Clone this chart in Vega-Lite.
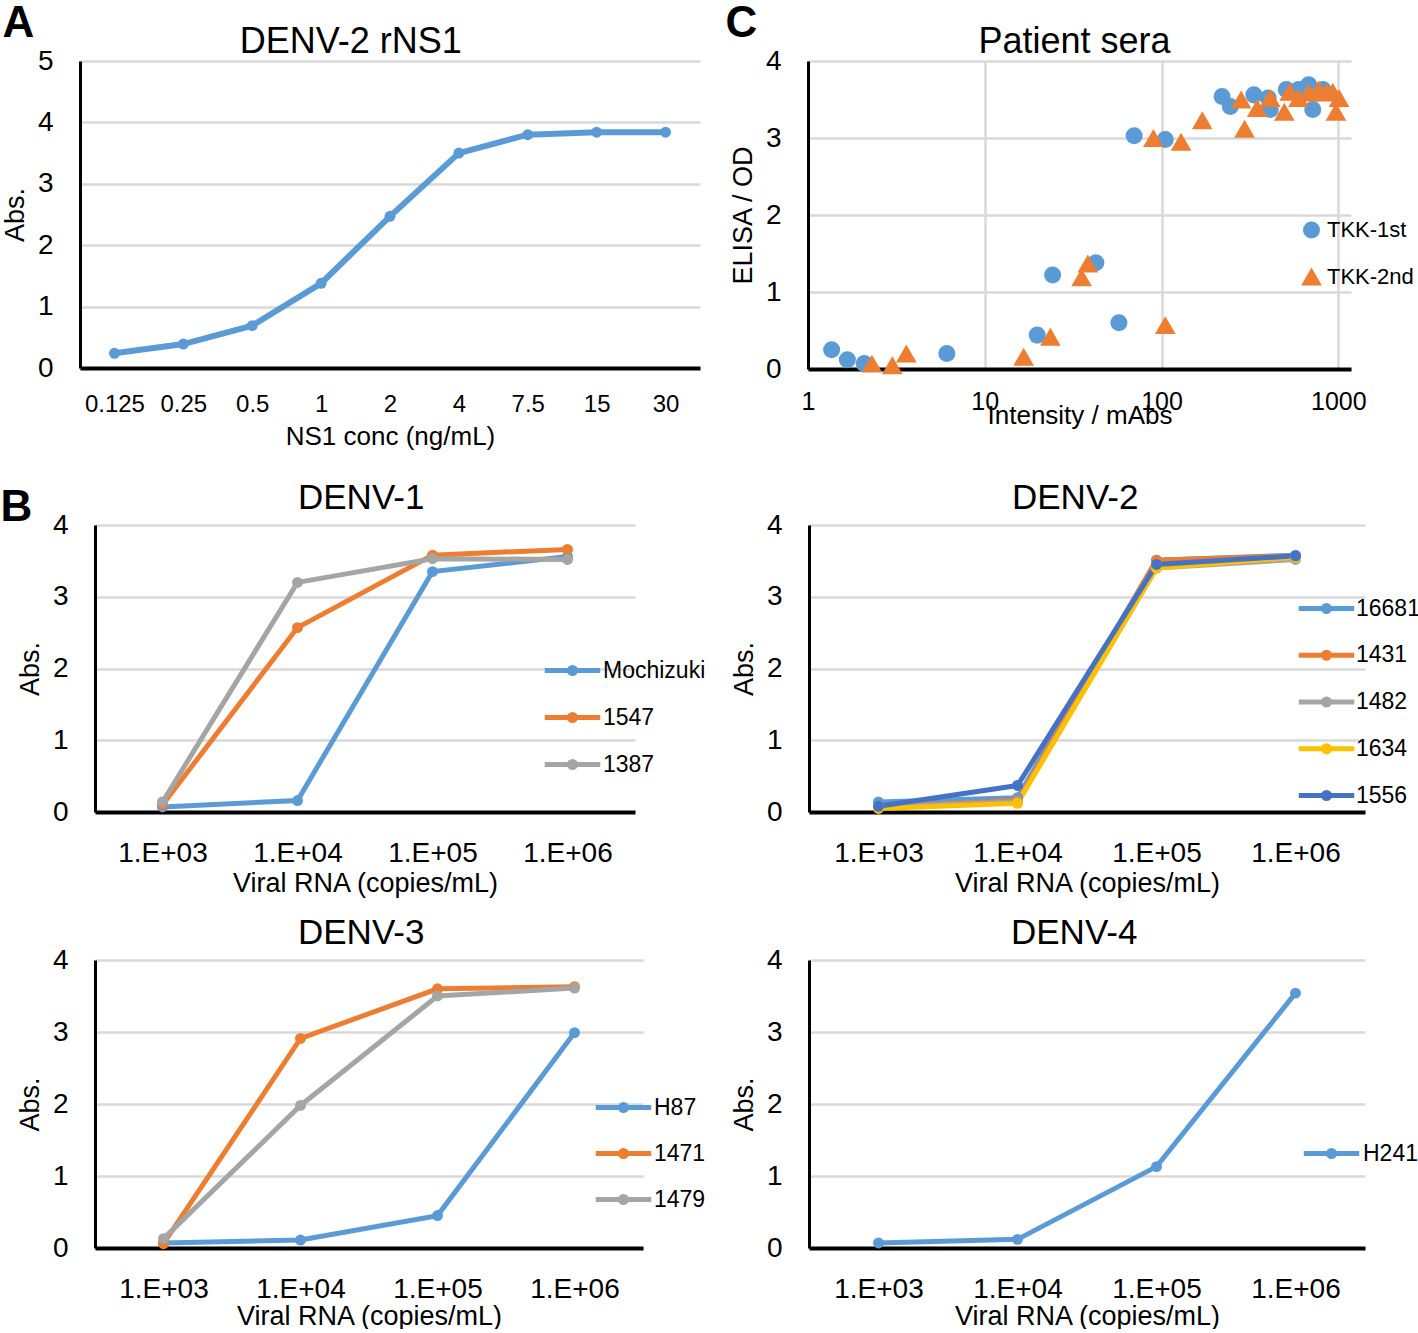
{
  "$schema": "https://vega.github.io/schema/vega-lite/v6.json",
  "padding": {"top": 2, "left": 0, "right": 0, "bottom": 0},
  "background": "white",
  "datasets": {
    "ns1": [
      {"conc": "0.125", "abs": 0.24},
      {"conc": "0.25", "abs": 0.39},
      {"conc": "0.5", "abs": 0.69},
      {"conc": "1", "abs": 1.38},
      {"conc": "2", "abs": 2.47},
      {"conc": "4", "abs": 3.5},
      {"conc": "7.5", "abs": 3.8},
      {"conc": "15", "abs": 3.84},
      {"conc": "30", "abs": 3.84}
    ],
    "sera": [
      {"group": "TKK-1st", "intensity": 1.36, "od": 0.25},
      {"group": "TKK-1st", "intensity": 1.67, "od": 0.12},
      {"group": "TKK-1st", "intensity": 2.08, "od": 0.07},
      {"group": "TKK-1st", "intensity": 6.1, "od": 0.2},
      {"group": "TKK-1st", "intensity": 19.8, "od": 0.44},
      {"group": "TKK-1st", "intensity": 24.2, "od": 1.22},
      {"group": "TKK-1st", "intensity": 42.5, "od": 1.38},
      {"group": "TKK-1st", "intensity": 57.4, "od": 0.6},
      {"group": "TKK-1st", "intensity": 70, "od": 3.03},
      {"group": "TKK-1st", "intensity": 105, "od": 2.98},
      {"group": "TKK-1st", "intensity": 220, "od": 3.54},
      {"group": "TKK-1st", "intensity": 245, "od": 3.41},
      {"group": "TKK-1st", "intensity": 333, "od": 3.56},
      {"group": "TKK-1st", "intensity": 401, "od": 3.52},
      {"group": "TKK-1st", "intensity": 412, "od": 3.37},
      {"group": "TKK-1st", "intensity": 508, "od": 3.63},
      {"group": "TKK-1st", "intensity": 596, "od": 3.63},
      {"group": "TKK-1st", "intensity": 680, "od": 3.69},
      {"group": "TKK-1st", "intensity": 717, "od": 3.37},
      {"group": "TKK-1st", "intensity": 818, "od": 3.63},
      {"group": "TKK-2nd", "intensity": 2.3, "od": 0.07},
      {"group": "TKK-2nd", "intensity": 3.0, "od": 0.05},
      {"group": "TKK-2nd", "intensity": 3.6, "od": 0.2},
      {"group": "TKK-2nd", "intensity": 16.6, "od": 0.16},
      {"group": "TKK-2nd", "intensity": 23.5, "od": 0.42},
      {"group": "TKK-2nd", "intensity": 35.3, "od": 1.19},
      {"group": "TKK-2nd", "intensity": 38.3, "od": 1.37},
      {"group": "TKK-2nd", "intensity": 90, "od": 3.0},
      {"group": "TKK-2nd", "intensity": 105, "od": 0.57},
      {"group": "TKK-2nd", "intensity": 129, "od": 2.95},
      {"group": "TKK-2nd", "intensity": 170, "od": 3.23},
      {"group": "TKK-2nd", "intensity": 282, "od": 3.5},
      {"group": "TKK-2nd", "intensity": 295, "od": 3.12},
      {"group": "TKK-2nd", "intensity": 348, "od": 3.39},
      {"group": "TKK-2nd", "intensity": 412, "od": 3.52},
      {"group": "TKK-2nd", "intensity": 495, "od": 3.34},
      {"group": "TKK-2nd", "intensity": 531, "od": 3.6},
      {"group": "TKK-2nd", "intensity": 596, "od": 3.52},
      {"group": "TKK-2nd", "intensity": 680, "od": 3.59},
      {"group": "TKK-2nd", "intensity": 776, "od": 3.63},
      {"group": "TKK-2nd", "intensity": 860, "od": 3.59},
      {"group": "TKK-2nd", "intensity": 930, "od": 3.6},
      {"group": "TKK-2nd", "intensity": 970, "od": 3.34},
      {"group": "TKK-2nd", "intensity": 1010, "od": 3.52}
    ],
    "d1": [
      {"strain": "Mochizuki", "rna": "1.E+03", "abs": 0.07},
      {"strain": "Mochizuki", "rna": "1.E+04", "abs": 0.16},
      {"strain": "Mochizuki", "rna": "1.E+05", "abs": 3.35},
      {"strain": "Mochizuki", "rna": "1.E+06", "abs": 3.56},
      {"strain": "1547", "rna": "1.E+03", "abs": 0.1},
      {"strain": "1547", "rna": "1.E+04", "abs": 2.57},
      {"strain": "1547", "rna": "1.E+05", "abs": 3.58},
      {"strain": "1547", "rna": "1.E+06", "abs": 3.66},
      {"strain": "1387", "rna": "1.E+03", "abs": 0.14},
      {"strain": "1387", "rna": "1.E+04", "abs": 3.2},
      {"strain": "1387", "rna": "1.E+05", "abs": 3.53},
      {"strain": "1387", "rna": "1.E+06", "abs": 3.52}
    ],
    "d2": [
      {"strain": "16681", "rna": "1.E+03", "abs": 0.14},
      {"strain": "16681", "rna": "1.E+04", "abs": 0.2},
      {"strain": "16681", "rna": "1.E+05", "abs": 3.51},
      {"strain": "16681", "rna": "1.E+06", "abs": 3.58},
      {"strain": "1431", "rna": "1.E+03", "abs": 0.07},
      {"strain": "1431", "rna": "1.E+04", "abs": 0.16},
      {"strain": "1431", "rna": "1.E+05", "abs": 3.51},
      {"strain": "1431", "rna": "1.E+06", "abs": 3.57},
      {"strain": "1482", "rna": "1.E+03", "abs": 0.07},
      {"strain": "1482", "rna": "1.E+04", "abs": 0.14},
      {"strain": "1482", "rna": "1.E+05", "abs": 3.4},
      {"strain": "1482", "rna": "1.E+06", "abs": 3.52},
      {"strain": "1634", "rna": "1.E+03", "abs": 0.05},
      {"strain": "1634", "rna": "1.E+04", "abs": 0.12},
      {"strain": "1634", "rna": "1.E+05", "abs": 3.4},
      {"strain": "1634", "rna": "1.E+06", "abs": 3.55},
      {"strain": "1556", "rna": "1.E+03", "abs": 0.08},
      {"strain": "1556", "rna": "1.E+04", "abs": 0.37},
      {"strain": "1556", "rna": "1.E+05", "abs": 3.45},
      {"strain": "1556", "rna": "1.E+06", "abs": 3.57}
    ],
    "d3": [
      {"strain": "H87", "rna": "1.E+03", "abs": 0.07},
      {"strain": "H87", "rna": "1.E+04", "abs": 0.11},
      {"strain": "H87", "rna": "1.E+05", "abs": 0.45},
      {"strain": "H87", "rna": "1.E+06", "abs": 2.99},
      {"strain": "1471", "rna": "1.E+03", "abs": 0.06},
      {"strain": "1471", "rna": "1.E+04", "abs": 2.91},
      {"strain": "1471", "rna": "1.E+05", "abs": 3.6},
      {"strain": "1471", "rna": "1.E+06", "abs": 3.63},
      {"strain": "1479", "rna": "1.E+03", "abs": 0.13},
      {"strain": "1479", "rna": "1.E+04", "abs": 1.98},
      {"strain": "1479", "rna": "1.E+05", "abs": 3.5},
      {"strain": "1479", "rna": "1.E+06", "abs": 3.61}
    ],
    "d4": [
      {"strain": "H241", "rna": "1.E+03", "abs": 0.07},
      {"strain": "H241", "rna": "1.E+04", "abs": 0.12},
      {"strain": "H241", "rna": "1.E+05", "abs": 1.13},
      {"strain": "H241", "rna": "1.E+06", "abs": 3.54}
    ]
  },
  "columns": 1,
  "spacing": 32,
  "resolve": {"scale": {"color": "independent", "shape": "independent", "size": "independent"}, "legend": {"color": "independent", "shape": "independent", "size": "independent"}},
  "concat": [
    {
      "spacing": 25,
      "resolve": {"scale": {"color": "independent", "shape": "independent", "size": "independent"}, "legend": {"color": "independent", "shape": "independent", "size": "independent"}},
      "hconcat": [
        {
          "title": {"text": "A", "anchor": "start", "fontSize": 44, "fontWeight": "bold", "dx": 1, "dy": 22, "offset": 0},
          "vconcat": [
            {
              "width": 620,
              "height": 307,
              "title": {"text": "DENV-2 rNS1", "offset": -14, "frame": "bounds", "fontSize": 36},
              "data": {"name": "ns1"},
              "encoding": {
                "x": {"field": "conc", "type": "ordinal", "sort": null, "scale": {"type": "point", "padding": 0.5},
                      "axis": {"title": "NS1 conc (ng/mL)", "labelAngle": 0, "labelFontSize": 24, "labelPadding": 24, "titlePadding": 7, "titleFontSize": 26}},
                "y": {"field": "abs", "type": "quantitative", "scale": {"domain": [0, 5], "nice": false},
                      "axis": {"title": "Abs.", "values": [0, 1, 2, 3, 4, 5]}}
              },
              "layer": [
                {"mark": {"type": "line", "color": "#5B9BD5", "strokeWidth": 6}},
                {"mark": {"type": "point", "filled": true, "color": "#5B9BD5", "size": 120, "opacity": 1}}
              ]
            }
          ]
        },
        {
          "title": {"text": "C", "anchor": "start", "fontSize": 44, "fontWeight": "bold", "dx": -4, "dy": 22, "offset": 0},
          "vconcat": [
            {
              "width": 543,
              "height": 308,
              "title": {"text": "Patient sera", "offset": -14, "frame": "group", "dx": -5, "fontSize": 36},
              "data": {"name": "sera"},
              "mark": {"type": "point", "filled": true, "opacity": 1},
              "encoding": {
                "x": {"field": "intensity", "type": "quantitative", "scale": {"type": "log", "domain": [1, 1180], "nice": false},
                      "axis": {"title": "Intensity / mAbs", "values": [1, 10, 100, 1000], "format": "d", "grid": true, "labelFlush": false, "labelFontSize": 25, "labelPadding": 20, "titlePadding": -12, "titleFontSize": 26}},
                "y": {"field": "od", "type": "quantitative", "scale": {"domain": [0, 4], "nice": false},
                      "axis": {"title": "ELISA / OD", "values": [0, 1, 2, 3, 4]}},
                "color": {"field": "group", "type": "nominal", "scale": {"domain": ["TKK-1st", "TKK-2nd"], "range": ["#5B9BD5", "#ED7D31"]},
                          "legend": {"title": null, "orient": "none", "direction": "vertical", "legendX": 492, "legendY": 158, "symbolSize": 180, "rowPadding": 24, "labelOffset": 4, "labelFontSize": 22}},
                "shape": {"field": "group", "type": "nominal", "scale": {"domain": ["TKK-1st", "TKK-2nd"], "range": ["circle", "triangle-up"]},
                          "legend": {"title": null, "orient": "none", "direction": "vertical", "legendX": 492, "legendY": 158, "symbolSize": 180, "rowPadding": 24, "labelOffset": 4, "labelFontSize": 22}},
                "size": {"field": "group", "type": "nominal", "scale": {"domain": ["TKK-1st", "TKK-2nd"], "range": [290, 430]}, "legend": null}
              }
            }
          ]
        }
      ]
    },
    {
      "bounds": "flush",
      "spacing": 0,
      "resolve": {"scale": {"color": "independent", "shape": "independent", "size": "independent"}, "legend": {"color": "independent", "shape": "independent", "size": "independent"}},
      "hconcat": [
        {"width": 15, "height": 1, "data": {"values": []}, "mark": "point"},
        {
          "title": {"text": "B", "anchor": "start", "fontSize": 44, "fontWeight": "bold", "dx": -16, "dy": 49, "offset": 0},
          "columns": 2,
          "spacing": {"row": 20, "column": 24},
          "resolve": {"scale": {"color": "independent", "shape": "independent", "size": "independent"}, "legend": {"color": "independent", "shape": "independent", "size": "independent"}},
          "concat": [
            {
              "width": 540,
              "height": 287,
              "title": {"text": "DENV-1", "offset": -5, "frame": "bounds"},
              "data": {"name": "d1"},
              "mark": {"type": "line", "strokeWidth": 5, "point": {"filled": true, "size": 120, "opacity": 1}},
              "encoding": {
                "x": {"field": "rna", "type": "ordinal", "sort": null, "scale": {"type": "point", "padding": 0.5}, "axis": {"title": "Viral RNA (copies/mL)", "labelAngle": 0}},
                "y": {"field": "abs", "type": "quantitative", "scale": {"domain": [0, 4], "nice": false}, "axis": {"title": "Abs.", "values": [0, 1, 2, 3, 4]}},
                "color": {"field": "strain", "type": "nominal", "sort": null, "scale": {"domain": ["Mochizuki", "1547", "1387"], "range": ["#5B9BD5", "#ED7D31", "#A5A5A5"]},
                  "legend": {"title": null, "orient": "none", "direction": "vertical", "legendX": 460, "legendY": 128, "symbolType": "M-1.85,0L1.85,0M0.2,0A0.2,0.2 0 1 1 -0.2,0A0.2,0.2 0 1 1 0.2,0", "symbolSize": 900, "symbolStrokeWidth": 5, "rowPadding": 16, "labelOffset": 13, "labelFontSize": 23}}
              }
            },
            {
              "width": 556,
              "height": 287,
              "title": {"text": "DENV-2", "offset": -5, "frame": "bounds"},
              "data": {"name": "d2"},
              "mark": {"type": "line", "strokeWidth": 5, "point": {"filled": true, "size": 120, "opacity": 1}},
              "encoding": {
                "x": {"field": "rna", "type": "ordinal", "sort": null, "scale": {"type": "point", "padding": 0.5}, "axis": {"title": "Viral RNA (copies/mL)", "labelAngle": 0}},
                "y": {"field": "abs", "type": "quantitative", "scale": {"domain": [0, 4], "nice": false}, "axis": {"title": "Abs.", "values": [0, 1, 2, 3, 4]}},
                "color": {"field": "strain", "type": "nominal", "sort": null, "scale": {"domain": ["16681", "1431", "1482", "1634", "1556"], "range": ["#5B9BD5", "#ED7D31", "#A5A5A5", "#FFC000", "#4472C4"]},
                  "legend": {"title": null, "orient": "none", "direction": "vertical", "legendX": 500, "legendY": 66, "symbolType": "M-1.85,0L1.85,0M0.2,0A0.2,0.2 0 1 1 -0.2,0A0.2,0.2 0 1 1 0.2,0", "symbolSize": 900, "symbolStrokeWidth": 5, "rowPadding": 15.75, "labelOffset": 12, "labelFontSize": 23}}
              }
            },
            {
              "width": 548,
              "height": 288,
              "title": {"text": "DENV-3", "offset": -5, "frame": "bounds"},
              "data": {"name": "d3"},
              "mark": {"type": "line", "strokeWidth": 5, "point": {"filled": true, "size": 120, "opacity": 1}},
              "encoding": {
                "x": {"field": "rna", "type": "ordinal", "sort": null, "scale": {"type": "point", "padding": 0.5}, "axis": {"title": "Viral RNA (copies/mL)", "labelAngle": 0, "titlePadding": 0}},
                "y": {"field": "abs", "type": "quantitative", "scale": {"domain": [0, 4], "nice": false}, "axis": {"title": "Abs.", "values": [0, 1, 2, 3, 4]}},
                "color": {"field": "strain", "type": "nominal", "sort": null, "scale": {"domain": ["H87", "1471", "1479"], "range": ["#5B9BD5", "#ED7D31", "#A5A5A5"]},
                  "legend": {"title": null, "orient": "none", "direction": "vertical", "legendX": 511, "legendY": 130, "symbolType": "M-1.85,0L1.85,0M0.2,0A0.2,0.2 0 1 1 -0.2,0A0.2,0.2 0 1 1 0.2,0", "symbolSize": 900, "symbolStrokeWidth": 5, "rowPadding": 15, "labelOffset": 13, "labelFontSize": 23}}
              }
            },
            {
              "width": 556,
              "height": 288,
              "title": {"text": "DENV-4", "offset": -5, "frame": "bounds"},
              "data": {"name": "d4"},
              "mark": {"type": "line", "strokeWidth": 5, "point": {"filled": true, "size": 120, "opacity": 1}},
              "encoding": {
                "x": {"field": "rna", "type": "ordinal", "sort": null, "scale": {"type": "point", "padding": 0.5}, "axis": {"title": "Viral RNA (copies/mL)", "labelAngle": 0, "titlePadding": 0}},
                "y": {"field": "abs", "type": "quantitative", "scale": {"domain": [0, 4], "nice": false}, "axis": {"title": "Abs.", "values": [0, 1, 2, 3, 4]}},
                "color": {"field": "strain", "type": "nominal", "sort": null, "scale": {"domain": ["H241"], "range": ["#5B9BD5"]},
                  "legend": {"title": null, "orient": "none", "direction": "vertical", "legendX": 505, "legendY": 176, "symbolType": "M-1.85,0L1.85,0M0.2,0A0.2,0.2 0 1 1 -0.2,0A0.2,0.2 0 1 1 0.2,0", "symbolSize": 900, "symbolStrokeWidth": 5, "rowPadding": 15, "labelOffset": 14, "labelFontSize": 23}}
              }
            }
          ]
        }
      ]
    }
  ],
  "config": {
    "font": "Liberation Sans",
    "view": {"stroke": null},
    "axis": {"ticks": false, "grid": false, "domainColor": "#000000", "domainWidth": 3, "labelColor": "#000000", "titleColor": "#000000", "labelFontSize": 28, "titleFontSize": 27, "titleFontWeight": "normal", "gridColor": "#d9d9d9", "gridWidth": 2.5, "labelOverlap": false},
    "axisY": {"grid": true, "labelPadding": 27, "titlePadding": 8},
    "axisX": {"labelPadding": 27, "titlePadding": 3, "domainWidth": 4},
    "title": {"fontSize": 35, "fontWeight": "normal", "color": "#000000"},
    "legend": {"labelFontSize": 23, "labelColor": "#000000", "padding": 0}
  }
}
